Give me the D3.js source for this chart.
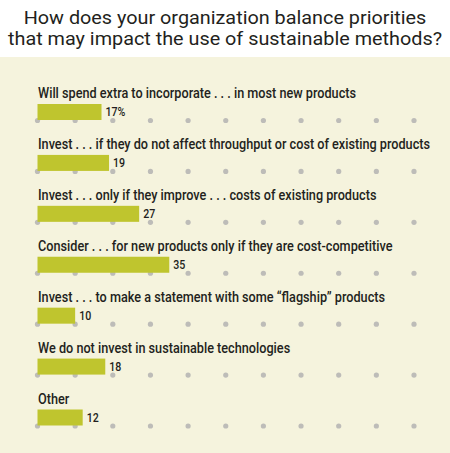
<!DOCTYPE html>
<html><head><meta charset="utf-8">
<script src="https://cdn.jsdelivr.net/npm/d3@7/dist/d3.min.js"></script>
<style>
html,body{margin:0;padding:0;background:#fff;}
svg{display:block;}
</style></head>
<body><svg id="c" width="450" height="453"></svg>
<script>
const titleLines = ["How does your organization balance priorities", "that may impact the use of sustainable methods?"];
const categories = [
  "Will spend extra to incorporate . . . in most new products",
  "Invest . . . if they do not affect throughput or cost of existing products",
  "Invest . . . only if they improve . . . costs of existing products",
  "Consider . . . for new products only if they are cost-competitive",
  "Invest . . . to make a statement with some \u201cflagship\u201d products",
  "We do not invest in sustainable technologies",
  "Other"
];
const values = [17, 19, 27, 35, 10, 18, 12];
const valueLabels = ["17%", "19", "27", "35", "10", "18", "12"];
const gridTicks = [0, 10, 20, 30, 40, 50, 60, 70, 80, 90, 100];

const svg = d3.select("#c");
const W = 450, H = 453;
const FONT = "Roboto,'DejaVu Sans',sans-serif";

svg.append("rect").attr("x",0).attr("y",57).attr("width",W).attr("height",H-57).attr("fill","#f5f3dd");

const tt = svg.selectAll("text.title").data(titleLines).join("text")
  .attr("class","title")
  .attr("x",225).attr("y",(d,i)=>24+i*20.5)
  .attr("text-anchor","middle")
  .attr("font-family",FONT).attr("font-size",19).attr("font-weight",400).attr("fill","#231f20")
  .text(d=>d);
const tn = tt.nodes().map(n=>n.getComputedTextLength());
const tf = 434 / tn[1];
tt.attr("textLength",(d,i)=>tn[i]*tf).attr("lengthAdjust","spacingAndGlyphs");

const x = d3.scaleLinear().domain([0,100]).range([37.5,414]);
const y = d3.scalePoint().domain(d3.range(categories.length)).range([120.5, 426]);

const rows = svg.append("g");
categories.forEach((c,i)=>{
  rows.append("g").selectAll("circle").data(gridTicks).join("circle")
    .attr("cx",d=>x(d)).attr("cy",y(i)).attr("r",2.6).attr("fill","#bdbcb8");
});

svg.append("g").selectAll("rect").data(values).join("rect")
  .attr("x",x(0)).attr("y",(d,i)=>y(i)-16.5)
  .attr("width",d=>x(d)-x(0)).attr("height",16)
  .attr("fill","#bfc52e");

const lt = svg.append("g").selectAll("text").data(categories).join("text")
  .attr("x",38).attr("y",(d,i)=>y(i)-22.3)
  .attr("font-family",FONT).attr("font-size",14.5).attr("font-weight",500).attr("fill","#231f20")
  .text(d=>d);
const ln = lt.nodes().map(n=>n.getComputedTextLength());
const lf = 392 / ln[1];
lt.attr("textLength",(d,i)=>ln[i]*lf).attr("lengthAdjust","spacingAndGlyphs");

const vt = svg.append("g").selectAll("text").data(values).join("text")
  .attr("x",d=>x(d)+4).attr("y",(d,i)=>y(i)-4.5)
  .attr("font-family",FONT).attr("font-size",12.5).attr("font-weight",500).attr("fill","#231f20")
  .text((d,i)=>valueLabels[i]);
const vn = vt.nodes().map(n=>n.getComputedTextLength());
vt.attr("textLength",(d,i)=>vn[i]*0.85).attr("lengthAdjust","spacingAndGlyphs");
</script></body></html>
